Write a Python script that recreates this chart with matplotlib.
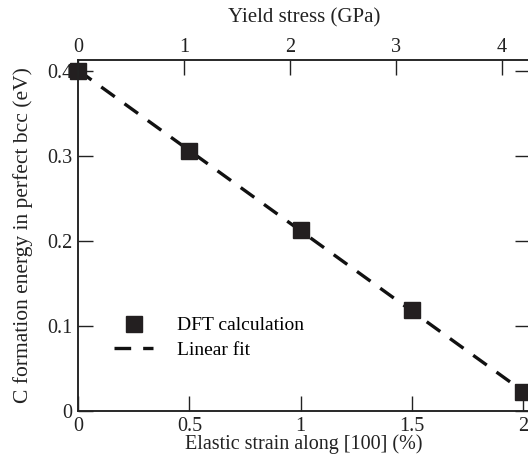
import matplotlib
matplotlib.use("Agg")
import matplotlib.pyplot as plt

# Data
strain = [0.0, 0.5, 1.0, 1.5, 2.0]
energy = [0.400, 0.306, 0.213, 0.119, 0.022]
fit_x = [0.0, 2.0]
fit_y = [0.401, 0.023]
x_ticks = [0, 0.5, 1, 1.5, 2]
x_ticklabels = ["0", "0.5", "1", "1.5", "2"]
y_ticks = [0, 0.1, 0.2, 0.3, 0.4]
y_ticklabels = ["0", "0.1", "0.2", "0.3", "0.4"]
top_ticks = [0, 1, 2, 3, 4]
top_ticklabels = ["0", "1", "2", "3", "4"]

plt.rcParams['font.family'] = ['Liberation Serif', 'DejaVu Serif']
plt.rcParams['mathtext.fontset'] = 'stix'

fig = plt.figure(figsize=(5.28, 4.59), dpi=100)
ax = fig.add_axes([78/528, 48/459, 452/528, 351/459])

ax.plot(fit_x, fit_y, color='#111111', lw=2.4, ls=(0, (5, 3.6)), label='Linear fit', zorder=2)
ax.plot(strain, energy, ls='none', marker='s', ms=11.5, color='#231f20',
        label='DFT calculation', zorder=3, clip_on=False)

ax.set_xlim(0, 2.03)
ax.set_ylim(0, 0.413)
ax.set_xticks(x_ticks)
ax.set_xticklabels(x_ticklabels)
ax.set_yticks(y_ticks)
ax.set_yticklabels(y_ticklabels)
ax.tick_params(axis='both', direction='in', length=11, width=1.0, labelsize=14.5,
               colors='#222222', labelcolor='#222222')
ax.tick_params(axis='x', top=False, pad=4)
ax.tick_params(axis='y', right=True, pad=4)
for s in ax.spines.values():
    s.set_linewidth(1.1)
    s.set_color('#222222')

ax.set_xlabel('Elastic strain along [100] (%)', fontsize=14.5, labelpad=-1, color='#222222')
ax.set_ylabel('C formation energy in perfect bcc (eV)', fontsize=15.5, labelpad=10, color='#222222')

top = ax.twiny()
top.set_xlim(0, 4.264)
top.set_xticks(top_ticks)
top.set_xticklabels(top_ticklabels)
top.tick_params(axis='x', direction='in', length=11, width=1.0, labelsize=14.5,
                colors='#222222', labelcolor='#222222', pad=2)
top.set_xlabel('Yield stress (GPa)', fontsize=15, labelpad=11, color='#222222')
for s in top.spines.values():
    s.set_linewidth(1.1)
    s.set_color('#222222')

handles, labels = ax.get_legend_handles_labels()
leg = ax.legend(handles[::-1], labels[::-1], loc='lower left', bbox_to_anchor=(0.05, 0.11),
                frameon=False, fontsize=14, handlelength=2.0, handletextpad=1.25,
                labelspacing=0.35, borderpad=0.2)

fig.savefig('out.png', dpi=100)
